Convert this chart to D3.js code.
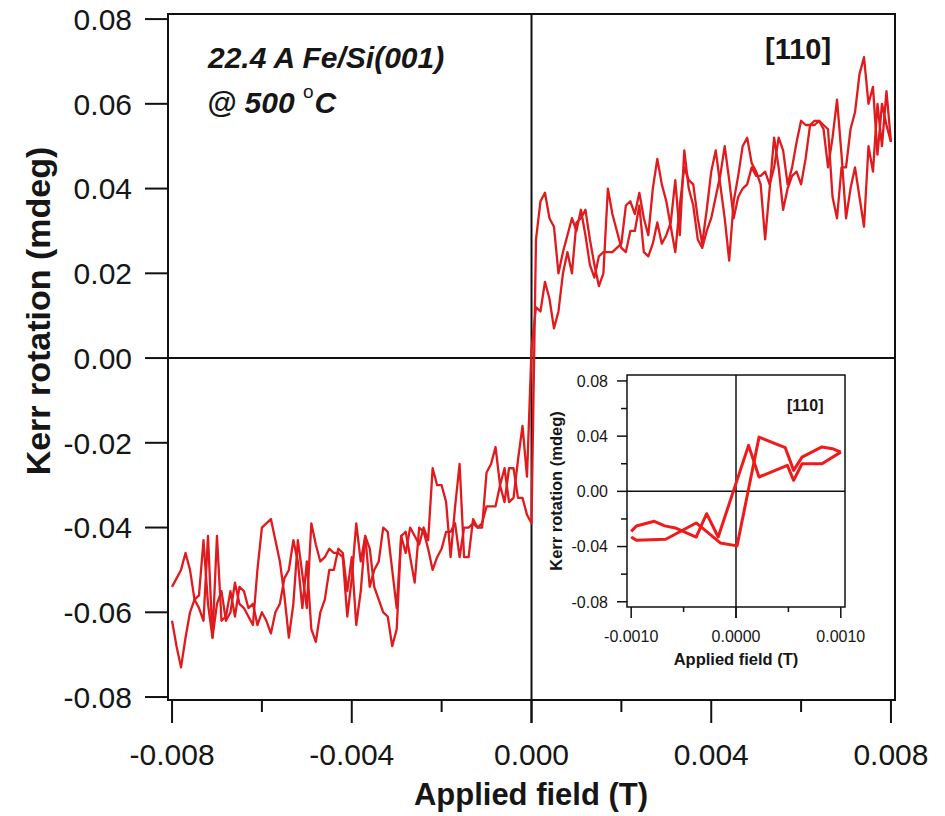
<!DOCTYPE html>
<html><head><meta charset="utf-8">
<script src="https://cdn.jsdelivr.net/npm/d3@7"></script>
<style>
body{margin:0;background:#fff}
svg{display:block}
text{font-family:"Liberation Sans",Arial,Helvetica,sans-serif;fill:#161616}
</style>
</head><body><svg id="c" width="945" height="816"></svg>
<script>
// ---------- main loop data ----------
const fieldMain = [
  -0.0080,-0.0079,-0.0078,-0.0077,-0.0076,-0.0075,-0.0074,-0.0073,-0.0072,-0.0071,
  -0.0070,-0.0069,-0.0068,-0.0067,-0.0066,-0.0065,-0.0064,-0.0063,-0.0062,-0.0061,
  -0.0060,-0.0059,-0.0058,-0.0057,-0.0056,-0.0055,-0.0054,-0.0053,-0.0052,-0.0051,
  -0.0050,-0.0049,-0.0048,-0.0047,-0.0046,-0.0045,-0.0044,-0.0043,-0.0042,-0.0041,
  -0.0040,-0.0039,-0.0038,-0.0037,-0.0036,-0.0035,-0.0034,-0.0033,-0.0032,-0.0031,
  -0.0030,-0.0029,-0.0028,-0.0027,-0.0026,-0.0025,-0.0024,-0.0023,-0.0022,-0.0021,
  -0.0020,-0.0019,-0.0018,-0.0017,-0.0016,-0.0015,-0.0014,-0.0013,-0.0012,-0.0011,
  -0.0010,-0.0009,-0.0008,-0.0007,-0.0006,-0.0005,-0.0004,-0.0003,-0.0002,-0.0001,
  0.0000,
  0.0001,0.0002,0.0003,0.0004,0.0005,0.0006,0.0007,0.0008,0.0009,0.0010,
  0.0011,0.0012,0.0013,0.0014,0.0015,0.0016,0.0017,0.0018,0.0019,0.0020,
  0.0021,0.0022,0.0023,0.0024,0.0025,0.0026,0.0027,0.0028,0.0029,0.0030,
  0.0031,0.0032,0.0033,0.0034,0.0035,0.0036,0.0037,0.0038,0.0039,0.0040,
  0.0041,0.0042,0.0043,0.0044,0.0045,0.0046,0.0047,0.0048,0.0049,0.0050,
  0.0051,0.0052,0.0053,0.0054,0.0055,0.0056,0.0057,0.0058,0.0059,0.0060,
  0.0061,0.0062,0.0063,0.0064,0.0065,0.0066,0.0067,0.0068,0.0069,0.0070,
  0.0071,0.0072,0.0073,0.0074,0.0075,0.0076,0.0077,0.0078,0.0079,0.0080];
const kerrAscending = [
  -0.062,-0.068,-0.073,-0.066,-0.060,-0.057,-0.056,-0.043,-0.058,-0.066,
  -0.058,-0.055,-0.062,-0.060,-0.053,-0.058,-0.059,-0.061,-0.063,-0.050,
  -0.040,-0.039,-0.038,-0.043,-0.048,-0.056,-0.066,-0.058,-0.043,-0.051,
  -0.059,-0.039,-0.044,-0.048,-0.047,-0.045,-0.046,-0.046,-0.047,-0.061,
  -0.052,-0.039,-0.048,-0.042,-0.054,-0.050,-0.048,-0.040,-0.041,-0.050,
  -0.059,-0.042,-0.041,-0.047,-0.053,-0.040,-0.041,-0.045,-0.050,-0.047,
  -0.045,-0.041,-0.041,-0.039,-0.047,-0.040,-0.040,-0.039,-0.040,-0.039,
  -0.035,-0.035,-0.035,-0.030,-0.034,-0.026,-0.026,-0.033,-0.033,-0.037,
  -0.039,
  0.028,0.037,0.039,0.033,0.031,0.020,0.025,0.029,0.033,0.030,
  0.035,0.029,0.022,0.019,0.024,0.025,0.025,0.025,0.026,0.027,
  0.036,0.037,0.034,0.039,0.033,0.029,0.040,0.047,0.041,0.037,
  0.031,0.025,0.036,0.045,0.042,0.041,0.033,0.027,0.035,0.044,
  0.049,0.041,0.033,0.023,0.037,0.043,0.050,0.052,0.046,0.044,
  0.041,0.028,0.040,0.052,0.045,0.035,0.040,0.043,0.044,0.041,
  0.047,0.055,0.056,0.056,0.054,0.045,0.052,0.061,0.048,0.033,
  0.040,0.045,0.038,0.031,0.050,0.044,0.060,0.050,0.063,0.051];
const kerrDescending = [
  -0.054,-0.052,-0.050,-0.046,-0.050,-0.057,-0.059,-0.062,-0.042,-0.066,
  -0.042,-0.062,-0.061,-0.055,-0.061,-0.054,-0.055,-0.059,-0.058,-0.063,
  -0.060,-0.062,-0.065,-0.060,-0.058,-0.052,-0.050,-0.043,-0.048,-0.059,
  -0.048,-0.064,-0.067,-0.060,-0.057,-0.050,-0.050,-0.045,-0.046,-0.055,
  -0.047,-0.063,-0.055,-0.042,-0.045,-0.054,-0.057,-0.060,-0.061,-0.068,
  -0.064,-0.042,-0.046,-0.040,-0.042,-0.044,-0.040,-0.043,-0.026,-0.030,
  -0.030,-0.034,-0.047,-0.035,-0.025,-0.047,-0.047,-0.038,-0.040,-0.040,
  -0.027,-0.025,-0.021,-0.030,-0.026,-0.034,-0.033,-0.024,-0.016,-0.028,
  0.002,
  0.012,0.011,0.018,0.014,0.007,0.011,0.020,0.025,0.020,0.032,
  0.033,0.035,0.028,0.022,0.017,0.020,0.040,0.034,0.030,0.026,
  0.025,0.030,0.030,0.036,0.025,0.024,0.027,0.032,0.027,0.029,
  0.032,0.042,0.029,0.049,0.040,0.036,0.028,0.026,0.030,0.033,
  0.038,0.043,0.050,0.042,0.033,0.038,0.040,0.041,0.045,0.043,
  0.043,0.044,0.041,0.045,0.052,0.049,0.041,0.045,0.051,0.056,
  0.055,0.055,0.055,0.056,0.055,0.054,0.038,0.033,0.045,0.045,
  0.054,0.058,0.067,0.071,0.060,0.064,0.048,0.060,0.055,0.051];

const yTickValues = [-0.08,-0.06,-0.04,-0.02,0,0.02,0.04,0.06,0.08];
const yTickLabels = ["-0.08","-0.06","-0.04","-0.02","0.00","0.02","0.04","0.06","0.08"];
const xTickValues = [-0.008,-0.004,0,0.004,0.008];
const xTickLabels = ["-0.008","-0.004","0.000","0.004","0.008"];
const xMinorTicks = [-0.006,-0.002,0.002,0.006];

// ---------- inset data ----------
const insetField1 = [-0.00100,-0.00095,-0.00078,-0.00068,-0.00058,-0.00038,-0.00028,-0.00017,0.00012,0.00022,0.00049,0.00055,0.00063,0.00082,0.00100];
const insetKerr1  = [-0.0290,-0.0251,-0.0217,-0.0250,-0.0265,-0.0331,-0.0162,-0.0331,0.0333,0.0104,0.0188,0.0080,0.0200,0.0200,0.0284];
const insetField2 = [-0.00100,-0.00095,-0.00067,-0.00038,-0.00015,0.00001,0.00022,0.00047,0.00055,0.00063,0.00082,0.00092,0.00100];
const insetKerr2  = [-0.0330,-0.0355,-0.0347,-0.0229,-0.0374,-0.0395,0.0393,0.0316,0.0152,0.0248,0.0322,0.0309,0.0284];
const insetYTicks = [-0.08,-0.04,0,0.04,0.08];
const insetYLabels = ["-0.08","-0.04","0.00","0.04","0.08"];
const insetYMinor = [-0.06,-0.02,0.02,0.06];
const insetXTicks = [-0.001,0,0.001];
const insetXLabels = ["-0.0010","0.0000","0.0010"];
const insetXMinor = [-0.0005,0.0005];

const svg = d3.select("#c");

// ---------- main chart ----------
const x = d3.scaleLinear().domain([-0.00809,0.00809]).range([168,895]);
const y = d3.scaleLinear().domain([-0.0807,0.0812]).range([700,14]);
const ink = "#111";

svg.append("clipPath").attr("id","clipMain").append("rect")
  .attr("x",168).attr("y",14).attr("width",727).attr("height",686);

const main = svg.append("g");
main.append("line").attr("x1",168).attr("x2",895).attr("y1",y(0)).attr("y2",y(0))
  .attr("stroke",ink).attr("stroke-width",2);
main.append("line").attr("x1",x(0)).attr("x2",x(0)).attr("y1",14).attr("y2",723)
  .attr("stroke",ink).attr("stroke-width",2);

const lineMain = d3.line().x(d=>x(d[0])).y(d=>y(d[1]));
const curves = main.append("g").attr("clip-path","url(#clipMain)");
[kerrAscending,kerrDescending].forEach(series=>{
  curves.append("path")
    .attr("d",lineMain(fieldMain.map((f,i)=>[f,series[i]])))
    .attr("fill","none").attr("stroke","#e01a1d").attr("stroke-width",2.3)
    .attr("stroke-linejoin","round");
});

main.append("rect").attr("x",168).attr("y",14).attr("width",727).attr("height",686)
  .attr("fill","none").attr("stroke",ink).attr("stroke-width",2);

// y ticks
main.selectAll(".yt").data(yTickValues).join("line")
  .attr("x1",145).attr("x2",168).attr("y1",d=>y(d)).attr("y2",d=>y(d))
  .attr("stroke",ink).attr("stroke-width",2);
main.selectAll(".yl").data(yTickValues).join("text")
  .attr("x",132).attr("y",d=>y(d)).attr("dy","0.36em")
  .attr("text-anchor","end").attr("font-size",30)
  .text((d,i)=>yTickLabels[i]);
// x ticks
main.selectAll(".xt").data(xTickValues).join("line")
  .attr("x1",d=>x(d)).attr("x2",d=>x(d)).attr("y1",700).attr("y2",723)
  .attr("stroke",ink).attr("stroke-width",2);
main.selectAll(".xm").data(xMinorTicks).join("line")
  .attr("x1",d=>x(d)).attr("x2",d=>x(d)).attr("y1",700).attr("y2",712)
  .attr("stroke",ink).attr("stroke-width",2);
main.selectAll(".xl").data(xTickValues).join("text")
  .attr("x",d=>x(d)).attr("y",765)
  .attr("text-anchor","middle").attr("font-size",30)
  .text((d,i)=>xTickLabels[i]);

// titles
main.append("text").attr("x",531).attr("y",805).attr("text-anchor","middle")
  .attr("font-size",31).attr("font-weight","bold").text("Applied field (T)");
main.append("text").attr("transform","translate(50,311) rotate(-90)").attr("text-anchor","middle")
  .attr("font-size",34).attr("font-weight","bold").text("Kerr rotation (mdeg)");

// annotations
main.append("text").attr("x",208).attr("y",68).attr("font-size",30)
  .attr("font-weight","bold").attr("font-style","italic").text("22.4 A Fe/Si(001)");
const t2 = main.append("text").attr("x",207).attr("y",113).attr("font-size",30)
  .attr("font-weight","bold").attr("font-style","italic");
t2.append("tspan").text("@ 500 ");
t2.append("tspan").attr("font-size",19).attr("dy",-15).attr("font-style","normal").attr("font-weight","normal").text("o");
t2.append("tspan").attr("dy",15).attr("dx",1).text("C");
main.append("text").attr("x",765).attr("y",59).attr("font-size",29)
  .attr("font-weight","bold").text("[110]");

// ---------- inset ----------
const xi = d3.scaleLinear().domain([-0.00104,0.00104]).range([627,845]);
const yi = d3.scaleLinear().domain([-0.0838,0.0843]).range([607,375]);
const inset = svg.append("g");
inset.append("rect").attr("x",627).attr("y",375).attr("width",218).attr("height",232)
  .attr("fill","#fff").attr("stroke","none");
inset.append("line").attr("x1",627).attr("x2",845).attr("y1",yi(0)).attr("y2",yi(0))
  .attr("stroke",ink).attr("stroke-width",1.5);
inset.append("line").attr("x1",xi(0)).attr("x2",xi(0)).attr("y1",375).attr("y2",618)
  .attr("stroke",ink).attr("stroke-width",1.5);
const lineIn = d3.line().x(d=>xi(d[0])).y(d=>yi(d[1]));
[[insetField1,insetKerr1],[insetField2,insetKerr2]].forEach(([fs,ks])=>{
  inset.append("path").attr("d",lineIn(fs.map((f,i)=>[f,ks[i]])))
    .attr("fill","none").attr("stroke","#f01a1a").attr("stroke-width",3)
    .attr("stroke-linejoin","round");
});
inset.append("rect").attr("x",627).attr("y",375).attr("width",218).attr("height",232)
  .attr("fill","none").attr("stroke",ink).attr("stroke-width",1.5);
inset.selectAll(".iyt").data(insetYTicks).join("line")
  .attr("x1",617).attr("x2",627).attr("y1",d=>yi(d)).attr("y2",d=>yi(d))
  .attr("stroke",ink).attr("stroke-width",1.5);
inset.selectAll(".iym").data(insetYMinor).join("line")
  .attr("x1",621).attr("x2",627).attr("y1",d=>yi(d)).attr("y2",d=>yi(d))
  .attr("stroke",ink).attr("stroke-width",1.5);
inset.selectAll(".iyl").data(insetYTicks).join("text")
  .attr("x",608).attr("y",d=>yi(d)).attr("dy","0.36em").attr("text-anchor","end")
  .attr("font-size",16).text((d,i)=>insetYLabels[i]);
inset.selectAll(".ixt").data(insetXTicks).join("line")
  .attr("x1",d=>xi(d)).attr("x2",d=>xi(d)).attr("y1",607).attr("y2",618)
  .attr("stroke",ink).attr("stroke-width",1.5);
inset.selectAll(".ixm").data(insetXMinor).join("line")
  .attr("x1",d=>xi(d)).attr("x2",d=>xi(d)).attr("y1",607).attr("y2",612)
  .attr("stroke",ink).attr("stroke-width",1.5);
inset.selectAll(".ixl").data(insetXTicks).join("text")
  .attr("x",d=>xi(d)).attr("y",642).attr("text-anchor","middle")
  .attr("font-size",16).text((d,i)=>insetXLabels[i]);
inset.append("text").attr("x",736).attr("y",665).attr("text-anchor","middle")
  .attr("font-size",16.5).attr("font-weight","bold").text("Applied field (T)");
inset.append("text").attr("transform","translate(562,491) rotate(-90)").attr("text-anchor","middle")
  .attr("font-size",16.5).attr("font-weight","bold").text("Kerr rotation (mdeg)");
inset.append("text").attr("x",787).attr("y",411).attr("font-size",16)
  .attr("font-weight","bold").text("[110]");
</script>
</body></html>
